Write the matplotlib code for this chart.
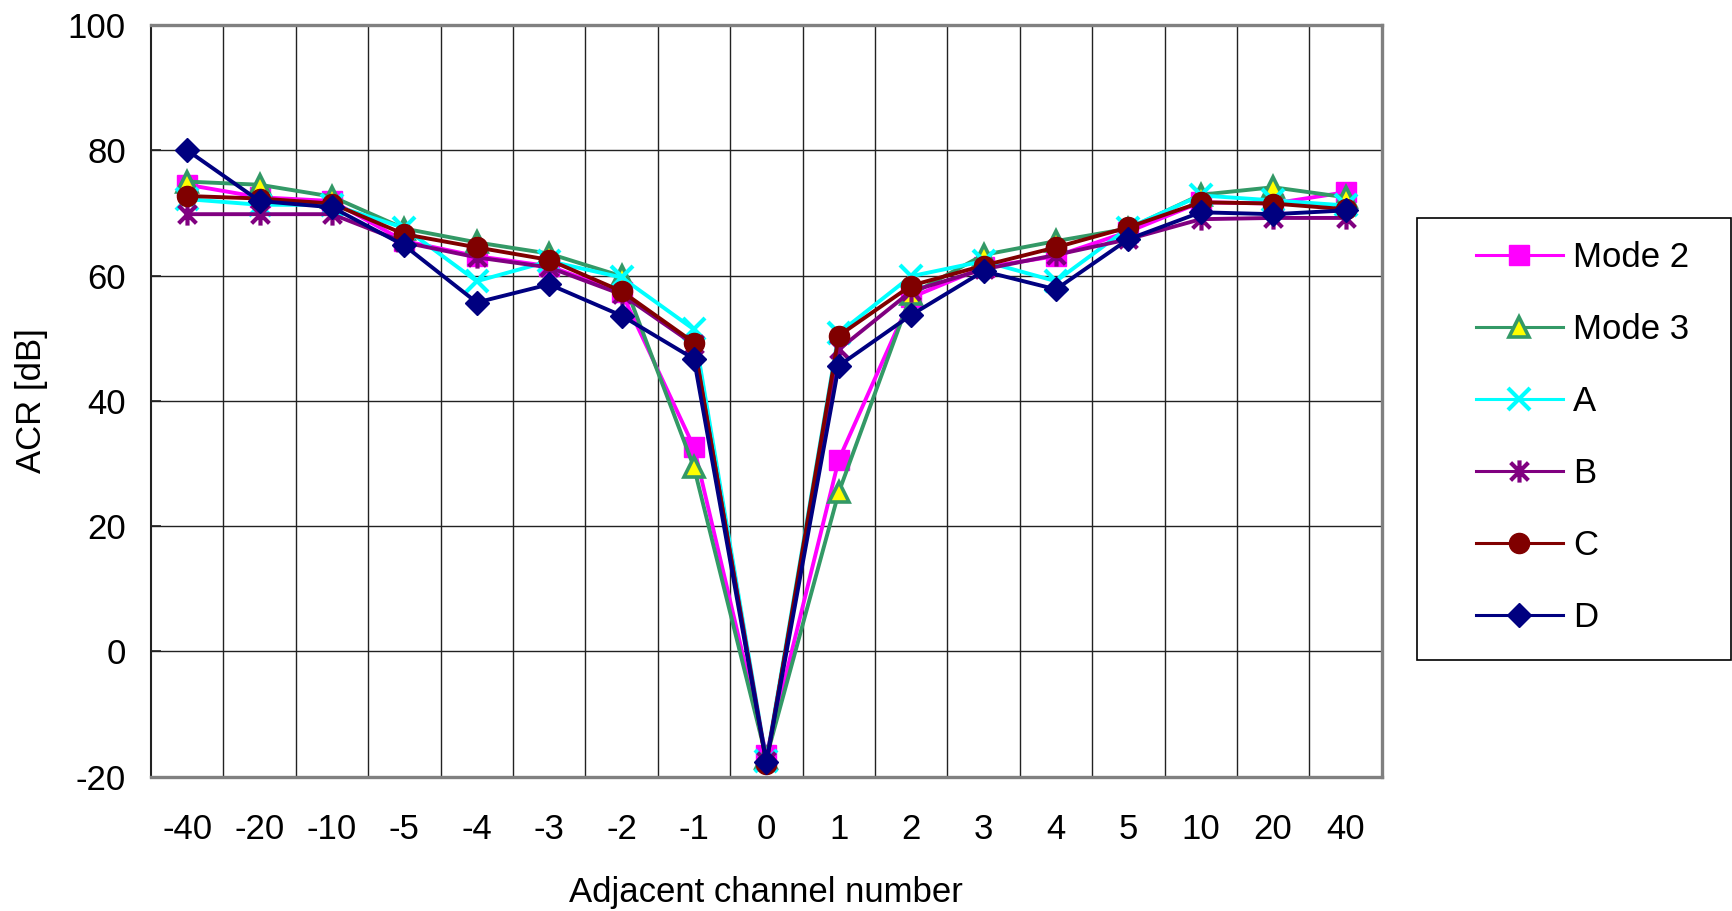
import numpy as np
import matplotlib
matplotlib.use("Agg")
import matplotlib.pyplot as plt
from matplotlib.path import Path
from matplotlib.patches import Rectangle

plt.rcParams['font.family'] = ['Liberation Sans', 'DejaVu Sans']
plt.rcParams['font.size'] = 25
plt.rcParams['axes.unicode_minus'] = False

# data
channels = ['-40', '-20', '-10', '-5', '-4', '-3', '-2', '-1', '0',
            '1', '2', '3', '4', '5', '10', '20', '40']
mode2 = [74.5, 72.5, 71.9, 65.5, 63.1, 61.5, 57.3, 32.6, -16.5,
         30.6, 56.5, 61.3, 63.1, 67.0, 71.7, 71.5, 73.3]
mode3 = [75.0, 74.5, 72.6, 67.5, 65.3, 63.5, 59.9, 29.4, -17.0,
         25.4, 57.0, 63.3, 65.5, 67.5, 72.9, 74.1, 72.5]
acr_a = [72.2, 71.3, 71.3, 67.6, 59.1, 62.3, 59.7, 51.4, -17.5,
         50.8, 59.9, 62.3, 59.1, 67.6, 72.8, 72.0, 71.2]
acr_b = [69.8, 69.8, 69.8, 65.3, 62.9, 61.3, 57.0, 49.0, -17.5,
         48.2, 57.5, 61.0, 63.3, 65.8, 69.0, 69.2, 69.2]
acr_c = [72.7, 72.3, 71.5, 66.6, 64.5, 62.5, 57.5, 49.3, -18.0,
         50.4, 58.4, 61.6, 64.5, 67.7, 71.7, 71.5, 70.6]
acr_d = [80.0, 71.9, 70.9, 64.8, 55.7, 58.6, 53.6, 46.7, -17.7,
         45.6, 53.7, 60.7, 57.8, 65.8, 70.1, 69.8, 70.4]

# excel style star: x plus a vertical bar
star = Path([(-1, -1), (1, 1), (-1, 1), (1, -1), (0, -1.25), (0, 1.25)],
            [Path.MOVETO, Path.LINETO, Path.MOVETO, Path.LINETO, Path.MOVETO, Path.LINETO])

fig = plt.figure(figsize=(17.33, 9.11), dpi=100)
W, H = 1733, 911
ax = fig.add_axes([151 / W, 1 - 776.7 / H, (1381.7 - 151) / W, (776.7 - 25) / H])

x = np.arange(len(channels))
lw = 2.8
ax.plot(x, mode2, color='#FF00FF', lw=lw, marker='s', ms=14, mec='#FF00FF', mfc='#FF00FF', label='Mode 2')
ax.plot(x, mode3, color='#339966', lw=lw, marker='^', ms=15, mec='#339966', mfc='#FFFF00', mew=2.6, label='Mode 3')
ax.plot(x, acr_a, color='#00FFFF', lw=lw, marker='x', ms=16, mew=3, label='A')
ax.plot(x, acr_b, color='#800080', lw=lw, marker=star, ms=16, mew=3, label='B')
ax.plot(x, acr_c, color='#800000', lw=lw, marker='o', ms=14.5, label='C')
ax.plot(x, acr_d, color='#000080', lw=lw, marker='D', ms=12.5, label='D')

ax.set_xlim(-0.5, len(channels) - 0.5)
ax.set_ylim(-20, 100)
ax.set_yticks(np.arange(-20, 101, 20))
ax.set_xticks(x)
ax.set_xticklabels(channels)
ax.set_xticks(np.arange(0.5, len(channels) - 1, 1), minor=True)
ax.tick_params(axis='x', which='both', length=0, pad=26)
ax.tick_params(axis='y', direction='in', length=7, width=1.2, pad=18, color='#222222')
ax.grid(True, axis='y', which='major', color='#222222', lw=1.0)
ax.grid(True, axis='x', which='minor', color='#222222', lw=1.0)
ax.set_axisbelow(True)

for side in ['top', 'right', 'bottom']:
    ax.spines[side].set_color('#808080')
    ax.spines[side].set_linewidth(2.4)
ax.spines['left'].set_color('#222222')
ax.spines['left'].set_linewidth(1.5)

ax.set_xlabel('Adjacent channel number', labelpad=22)
ax.set_ylabel('ACR [dB]', labelpad=14)

# legend box on the right
fig.patches.append(Rectangle((1417 / W, 1 - 660 / H), (1731 - 1417) / W, (660 - 218) / H,
                             transform=fig.transFigure, fill=False, ec='black', lw=1.2))
leg = ax.legend(loc='center left', bbox_to_anchor=(1476 / W, 1 - 437.5 / H),
                bbox_transform=fig.transFigure, frameon=False, borderpad=0,
                borderaxespad=0, handlelength=2.5, handletextpad=0.3,
                labelspacing=1.12, fontsize=25)
for h in leg.get_lines():
    h.set_linewidth(2.2)

fig.savefig('out.png', dpi=100)
